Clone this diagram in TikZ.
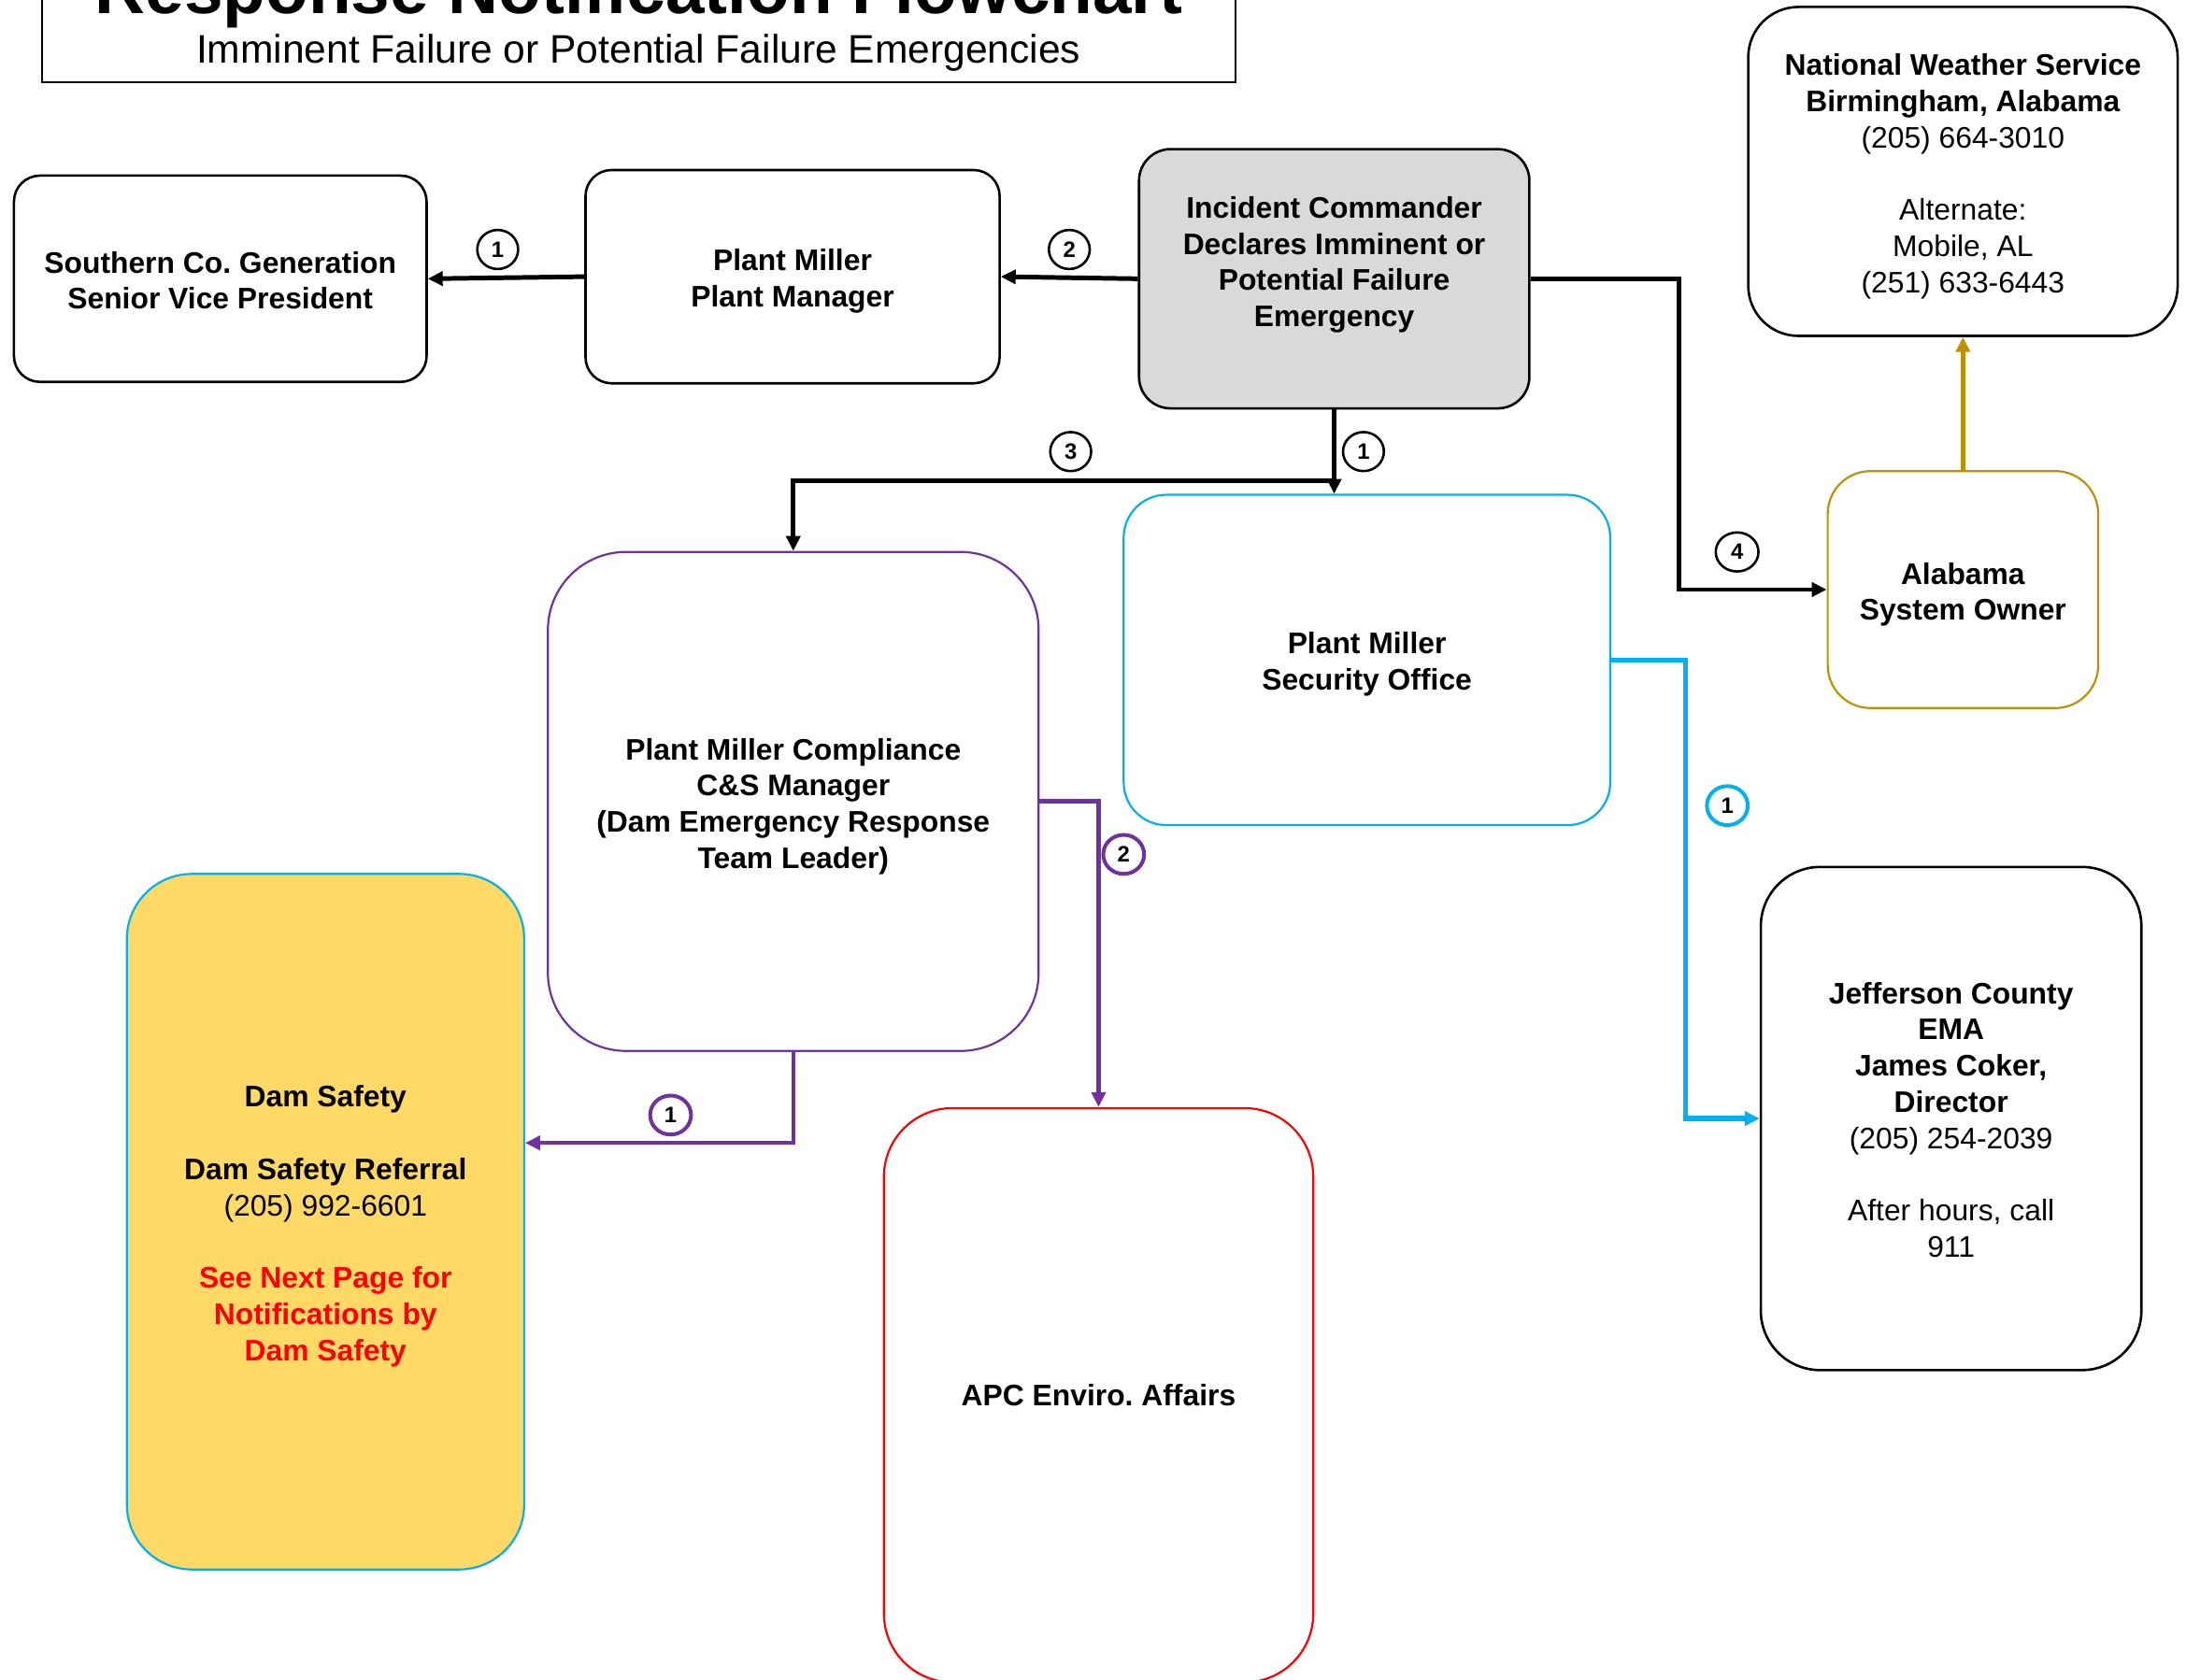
\documentclass[tikz,border=0pt]{standalone}
\usepackage{fontspec}
\setmainfont{Liberation Sans}
\usetikzlibrary{arrows.meta,shapes.geometric}
\definecolor{icgray}{HTML}{D9D9D9}
\definecolor{damyel}{HTML}{FFD966}
\definecolor{cyanc}{HTML}{00B0F0}
\definecolor{purp}{HTML}{7030A0}
\definecolor{goldc}{HTML}{BF9000}
\definecolor{redc}{HTML}{FF0000}
\newcommand\boxfont{\fontsize{16}{19.5}\selectfont\bfseries}
\newcommand\topstrut[1]{\rule{0pt}{#1}}
\frenchspacing
\begin{document}
\frenchspacing
\begin{tikzpicture}[x=0.75pt,y=-0.75pt,
  box/.style={draw, rounded corners=#1, align=center, inner sep=0pt, font=\boxfont, line width=1.3pt},
  txt/.style={align=center, inner sep=0pt, font=\boxfont},
  num/.style={ellipse, draw, line width=1.3pt, minimum width=22pt, minimum height=21pt, inner sep=0pt, fill=white,
              font=\fontsize{12}{12}\selectfont\bfseries},
  conn/.style={line width=2.5pt, -{Triangle[length=8pt,width=7.5pt]}},
]
\useasboundingbox (0,0) rectangle (1568,1205);

% title
\node[draw, line width=1pt, minimum width=642pt, minimum height=88pt, inner sep=0pt] (titlebox) at (458,0) {};
\node[anchor=base, inner sep=0pt, font=\fontsize{37.6}{40}\selectfont\bfseries] (title) at (458,10) {Response Notification Flowchart};
\node[anchor=base, inner sep=0pt, font=\fontsize{21.4}{24}\selectfont] (subtitle) at (458,45) {Imminent Failure or Potential Failure Emergencies};

% boxes
\node[box=14pt, minimum width=222pt, minimum height=111pt] (south) at (158,200) {\topstrut{13.5pt}Southern Co. Generation\\Senior Vice President};
\node[box=14pt, minimum width=222.75pt, minimum height=114.75pt] (pm) at (568.5,198.5) {\topstrut{16pt}Plant Miller\\Plant Manager};
\node[box=17pt, fill=icgray, minimum width=210pt, minimum height=139.5pt] (ic) at (957,200) {};
\node[txt] (ictext) at (957,190) {Incident Commander\\Declares Imminent or\\Potential Failure\\Emergency};
\node[box=27pt, minimum width=231pt, minimum height=177pt] (nws) at (1408,123)
  {\topstrut{17pt}National Weather Service\\Birmingham, Alabama\\\mdseries(205) 664-3010\\[19.5pt]\mdseries Alternate:\\\mdseries Mobile, AL\\\mdseries(251) 633-6443};
\node[box=23pt, draw=goldc, line width=1.1pt, minimum width=145.5pt, minimum height=127.5pt] (al) at (1408,423) {\topstrut{17pt}Alabama\\System Owner};
\node[box=23pt, draw=cyanc, line width=1.1pt, minimum width=261.75pt, minimum height=177.75pt] (sec) at (980.5,473.5) {\topstrut{16pt}Plant Miller\\Security Office};
\node[box=42pt, draw=purp, line width=1.1pt, minimum width=264pt, minimum height=268.5pt] (comp) at (569,575)
  {\topstrut{17pt}Plant Miller Compliance\\C\&S Manager\\(Dam Emergency Response\\Team Leader)};
\node[box=35pt, draw=cyanc, fill=damyel, line width=1.1pt, minimum width=213.75pt, minimum height=374.25pt] (dam) at (233.5,876.5)
  {\topstrut{16.5pt}Dam Safety\\[19.5pt]Dam Safety Referral\\\mdseries(205) 992-6601\\[19.5pt]\color{redc}See Next Page for\\\color{redc}Notifications by\\\color{redc}Dam Safety};
\node[box=37pt, draw=redc, line width=1.1pt, minimum width=231pt, minimum height=309pt] (apc) at (788,1001) {APC Enviro. Affairs};
\node[box=32pt, minimum width=204.75pt, minimum height=270.75pt] (jef) at (1399.5,802.5)
  {\topstrut{13pt}Jefferson County\\EMA\\James Coker,\\Director\\\mdseries(205) 254-2039\\[19.5pt]\mdseries After hours, call\\\mdseries 911};

% connectors
\coordinate (j3) at (957,345);
\coordinate (c4) at (1204,200);
\coordinate (c5) at (1209,473.5);
\coordinate (c7) at (569,820);

\draw[conn] (ic.west) -- (pm.east);
\draw[conn] (pm.west) -- (south.east);
\draw[conn] (ic.south) -- (ic.south |- sec.north);
\draw[conn] (j3) -| (comp.north);
\draw[conn] (ic.east) -- (c4) |- (al.west);
\draw[conn, goldc, line width=2.7pt] (al.north) -- (nws.south);
\draw[conn, cyanc, line width=2.7pt] (sec.east) -- (c5) |- (jef.west);
\draw[conn, purp, line width=2.3pt] (comp.east) -| (apc.north);
\draw[conn, purp, line width=2.3pt] (comp.south) -- (c7) -- (dam.east |- c7);

% number labels
\node[num] (n1) at (357,179) {1};
\node[num] (n2) at (767,179) {2};
\node[num] (n3) at (978,324) {1};
\node[num] (n4) at (768,324) {3};
\node[num, minimum width=23pt] (n5) at (1246,396) {4};
\node[num, draw=cyanc, line width=2pt] (n6) at (1239,578) {1};
\node[num, draw=purp, line width=2pt] (n7) at (806,613) {2};
\node[num, draw=purp, line width=2pt] (n8) at (481,800) {1};
\end{tikzpicture}
\end{document}
